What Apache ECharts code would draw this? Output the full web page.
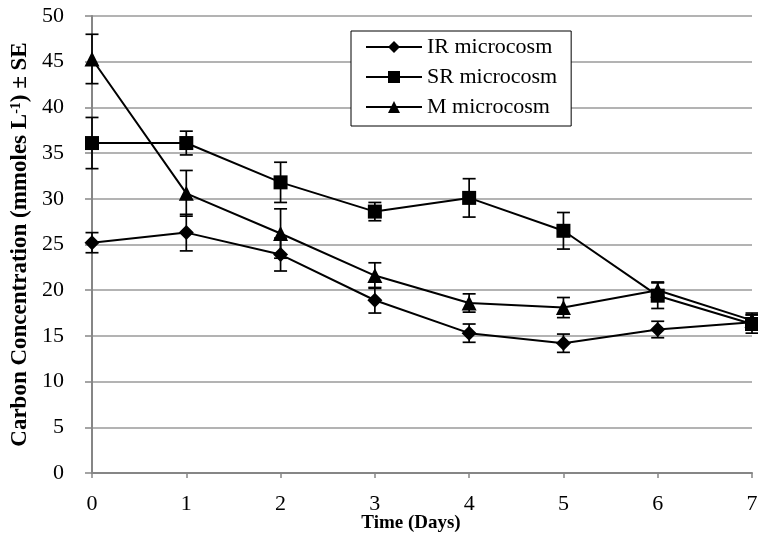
<!DOCTYPE html>
<html>
<head>
<meta charset="utf-8">
<script src="https://cdn.jsdelivr.net/npm/echarts@6/dist/echarts.min.js"></script>
<style>html,body{margin:0;padding:0;background:#fff;}#c{width:758px;height:535px;}</style>
</head>
<body>
<div id="c"></div>
<script>
const days = [0, 1, 2, 3, 4, 5, 6, 7];
const irMean = [25.2, 26.3, 23.9, 18.9, 15.3, 14.2, 15.7, 16.5];
const irSE   = [1.1, 2.0, 1.8, 1.4, 1.0, 1.0, 0.9, 0.8];
const srMean = [36.1, 36.1, 31.8, 28.6, 30.1, 26.5, 19.4, 16.3];
const srSE   = [2.8, 1.3, 2.2, 1.0, 2.1, 2.0, 1.4, 1.0];
const mMean  = [45.3, 30.6, 26.2, 21.6, 18.6, 18.1, 20.0, 16.7];
const mSE    = [2.7, 2.5, 2.7, 1.4, 1.0, 1.1, 0.9, 0.8];
const seriesNames = ['IR microcosm', 'SR microcosm', 'M microcosm'];
const yTicks = [0, 5, 10, 15, 20, 25, 30, 35, 40, 45, 50];

const FONT = '"Liberation Serif", "Times New Roman", serif';

function pts(mean) { return days.map((d, i) => [d, mean[i]]); }
function errs(mean, se) { return days.map((d, i) => [d, mean[i] - se[i], mean[i] + se[i]]); }

function errSeries(mean, se) {
  return {
    type: 'custom',
    silent: true,
    z: 5,
    data: errs(mean, se),
    encode: { x: 0, y: [1, 2] },
    renderItem: function (params, api) {
      const x = api.value(0);
      const lo = api.coord([x, api.value(1)]);
      const hi = api.coord([x, api.value(2)]);
      const hw = 6.5;
      const st = { stroke: '#000', lineWidth: 1.7 };
      return {
        type: 'group',
        children: [
          { type: 'line', shape: { x1: lo[0], y1: lo[1], x2: hi[0], y2: hi[1] }, style: st },
          { type: 'line', shape: { x1: lo[0] - hw, y1: lo[1], x2: lo[0] + hw, y2: lo[1] }, style: st },
          { type: 'line', shape: { x1: hi[0] - hw, y1: hi[1], x2: hi[0] + hw, y2: hi[1] }, style: st }
        ]
      };
    }
  };
}

function lineSeries(name, mean, symbol, size) {
  return {
    name: name,
    type: 'line',
    data: pts(mean),
    symbol: symbol,
    symbolSize: size,
    showAllSymbol: true,
    z: 3,
    lineStyle: { color: '#000', width: 2 },
    itemStyle: { color: '#000', borderWidth: 0 },
    emphasis: { disabled: true },
    animation: false
  };
}

const chart = echarts.init(document.getElementById('c'), null, { renderer: 'canvas' });
chart.setOption({
  animation: false,
  backgroundColor: '#fff',
  grid: { left: 92, right: 6, top: 16, bottom: 62, containLabel: false, outerBoundsMode: 'none' },
  legend: {
    data: seriesNames,
    orient: 'vertical',
    left: 351,
    top: 31,
    padding: [5, 14, 8, 14],
    itemGap: 8,
    itemWidth: 56,
    itemHeight: 15,
    borderColor: '#000',
    borderWidth: 1,
    backgroundColor: '#fff',
    textStyle: { fontFamily: FONT, fontSize: 22, color: '#000', lineHeight: 22 },
    selectedMode: false
  },
  xAxis: {
    type: 'value',
    min: 0, max: 7, interval: 1,
    name: 'Time (Days)',
    nameLocation: 'middle',
    nameGap: 41,
    nameMoveOverlap: false,
    nameTextStyle: { fontFamily: FONT, fontSize: 19, fontWeight: 'bold', color: '#000', padding: [0, 22, 0, 0] },
    axisLine: { show: true, lineStyle: { color: '#868686', width: 2 } },
    axisTick: { show: true, length: 5, lineStyle: { color: '#868686', width: 1.5 } },
    axisLabel: { fontFamily: FONT, fontSize: 22, color: '#000', margin: 20 },
    splitLine: { show: false }
  },
  yAxis: {
    type: 'value',
    min: 0, max: 50, interval: 5,
    name: '{a|Carbon Concentration (mmoles L}{s|-1}{a|) ± SE}',
    nameLocation: 'middle',
    nameGap: 60,
    nameMoveOverlap: false,
    nameRotate: 90,
    nameTextStyle: {
      rich: {
        a: { fontFamily: FONT, fontSize: 23, fontWeight: 'bold', color: '#000' },
        s: { fontFamily: FONT, fontSize: 14, fontWeight: 'bold', color: '#000', verticalAlign: 'top', padding: [0, 0, 9, 0] }
      }
    },
    axisLine: { show: true, lineStyle: { color: '#868686', width: 2 } },
    axisTick: { show: true, length: 7, lineStyle: { color: '#868686', width: 1.5 } },
    axisLabel: {
      fontFamily: FONT, fontSize: 22, color: '#000', margin: 28,
      formatter: function (v) { return yTicks.indexOf(v) >= 0 ? String(v) : ''; }
    },
    splitLine: { show: true, lineStyle: { color: '#9a9a9a', width: 1.5 } }
  },
  series: [
    lineSeries(seriesNames[0], irMean, 'diamond', 15),
    lineSeries(seriesNames[1], srMean, 'rect', 14),
    lineSeries(seriesNames[2], mMean, 'triangle', 15),
    errSeries(irMean, irSE),
    errSeries(srMean, srSE),
    errSeries(mMean, mSE)
  ]
});
</script>
</body>
</html>
